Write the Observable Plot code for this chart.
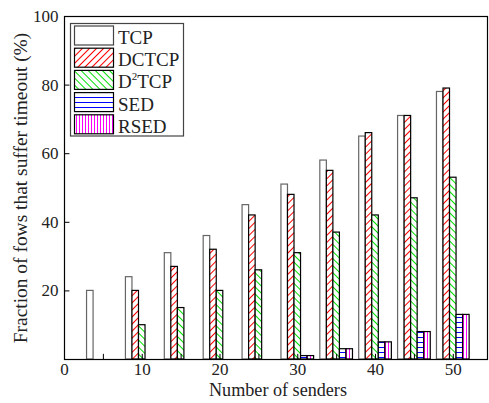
<!DOCTYPE html>
<html>
<head>
<meta charset="utf-8">
<script src="https://cdn.jsdelivr.net/npm/d3@7"></script>
<script src="https://cdn.jsdelivr.net/npm/@observablehq/plot@0.6"></script>
<style>
  html, body { margin: 0; padding: 0; background: #fff; }
  #chart { position: relative; width: 489px; height: 403px; }
</style>
</head>
<body>
<div id="chart"></div>
<script>
// ---- data ----
const senders = [5, 10, 15, 20, 25, 30, 35, 40, 45, 50];
const seriesNames = ["TCP", "DCTCP", "D2TCP", "SED", "RSED"];
const tcp   = [20, 24, 31, 36, 45, 51, 58, 65, 71, 78];
const dctcp = [0, 20, 27, 32, 42, 48, 55, 66, 71, 79];
const d2tcp = [0, 10, 15, 20, 26, 31, 37, 42, 47, 53];
const sed   = [0, 0, 0, 0, 0, 1, 3, 5, 8, 13];
const rsed  = [0, 0, 0, 0, 0, 1, 3, 5, 8, 13];
const xTickLabels = [0, 10, 20, 30, 40, 50];
const xTickMarks = [0, 5, 10, 15, 20, 25, 30, 35, 40, 45, 50];
const yTickLabels = [20, 40, 60, 80, 100];
const xLabel = "Number of senders";
const yLabel = "Fraction of fows that suffer timeout (%)";

const values = [tcp, dctcp, d2tcp, sed, rsed];
const fills = ["white", "url(#p-dctcp)", "url(#p-d2tcp)", "url(#p-sed)", "url(#p-rsed)"];
const strokes = ["#666", "black", "black", "black", "black"];
const barW = 0.84; // bar width in x units

function seriesData(i) {
  return senders.map((s, j) => ({
    x1: s + (i - 2.5) * barW,
    x2: s + (i - 1.5) * barW,
    y: values[i][j]
  })).filter(d => d.y > 0);
}

const font = "Liberation Serif, Times New Roman, serif";

const plot = Plot.plot({
  width: 489,
  height: 403,
  marginLeft: 64,
  marginRight: 2,
  marginTop: 16,
  marginBottom: 44,
  style: { fontFamily: font, fontSize: "17px", color: "#222", background: "white" },
  x: { domain: [0, 54.4] },
  y: { domain: [0, 100] },
  marks: [
    ...values.map((v, i) => Plot.rectY(seriesData(i), {
      x1: "x1", x2: "x2", y: "y",
      fill: fills[i], stroke: strokes[i], strokeWidth: 1.2
    })),
    Plot.ruleX(xTickMarks, { x: d => d, y1: 0, y2: 1.5, stroke: "black" }),
    Plot.ruleY(yTickLabels, { y: d => d, x1: 0, x2: 0.7, stroke: "black" }),
    Plot.axisX({ ticks: xTickLabels, tickSize: 0, tickPadding: 3, tickFormat: d => String(d),
      label: null, fontSize: 17 }),
    Plot.axisY({ ticks: yTickLabels, tickSize: 0, tickPadding: 6, label: null, fontSize: 17 }),
    Plot.frame({ stroke: "black", strokeWidth: 1.2 })
  ]
});

const svg = d3.select(plot.tagName.toLowerCase() === "svg" ? plot : plot.querySelector("svg"));
document.getElementById("chart").appendChild(plot);

// ---- patterns ----
const defs = svg.insert("defs", ":first-child");
function hatch(id, color, angle, spacing, sw) {
  const p = defs.append("pattern").attr("id", id).attr("patternUnits", "userSpaceOnUse")
    .attr("width", spacing).attr("height", spacing).attr("patternTransform", `rotate(${angle})`);
  p.append("rect").attr("width", spacing).attr("height", spacing).attr("fill", "white");
  p.append("line").attr("x1", spacing / 2).attr("x2", spacing / 2).attr("y1", 0).attr("y2", spacing)
    .attr("stroke", color).attr("stroke-width", sw);
}
hatch("p-dctcp", "#ff0000", 45, 5, 1);
hatch("p-d2tcp", "#00e000", -45, 5, 1);
hatch("p-sed", "#0000ff", 90, 5, 1);
hatch("p-rsed", "#ff00ff", 0, 3, 1);

// ---- axis titles ----
function fitText(sel, target, base) {
  sel.attr("font-size", base);
  const w = sel.node().getComputedTextLength();
  if (w > 0) sel.attr("font-size", (base * target / w).toFixed(2));
}
const xt = svg.append("text").attr("x", 278).attr("y", 396).attr("text-anchor", "middle")
  .attr("font-family", font).attr("fill", "#222").text(xLabel);
fitText(xt, 138, 18);
const yt = svg.append("text").attr("transform", "translate(26.5,188) rotate(-90)").attr("text-anchor", "middle")
  .attr("font-family", font).attr("fill", "#222").text(yLabel);
fitText(yt, 311, 18);

// ---- legend (inside plot area) ----
const lg = svg.append("g").attr("font-family", font).attr("font-size", 19).attr("fill", "#222")
  .attr("text-anchor", "start");
lg.append("rect").attr("x", 70.5).attr("y", 23.5).attr("width", 113).attr("height", 112.5)
  .attr("fill", "white").attr("stroke", "#444").attr("stroke-width", 1.2);
seriesNames.forEach((name, i) => {
  const y0 = 26 + i * 22.2;
  lg.append("rect").attr("x", 74.5).attr("y", y0).attr("width", 39).attr("height", 19)
    .attr("fill", fills[i]).attr("stroke", i === 0 ? "#444" : "black").attr("stroke-width", 1.2);
  const t = lg.append("text").attr("x", 118).attr("y", y0 + 18).attr("text-anchor", "start");
  if (name === "D2TCP") {
    t.append("tspan").text("D");
    t.append("tspan").attr("font-size", 11).attr("dy", -8).text("2");
    t.append("tspan").attr("dy", 8).text("TCP");
  } else {
    t.text(name);
  }
});
</script>
</body>
</html>
